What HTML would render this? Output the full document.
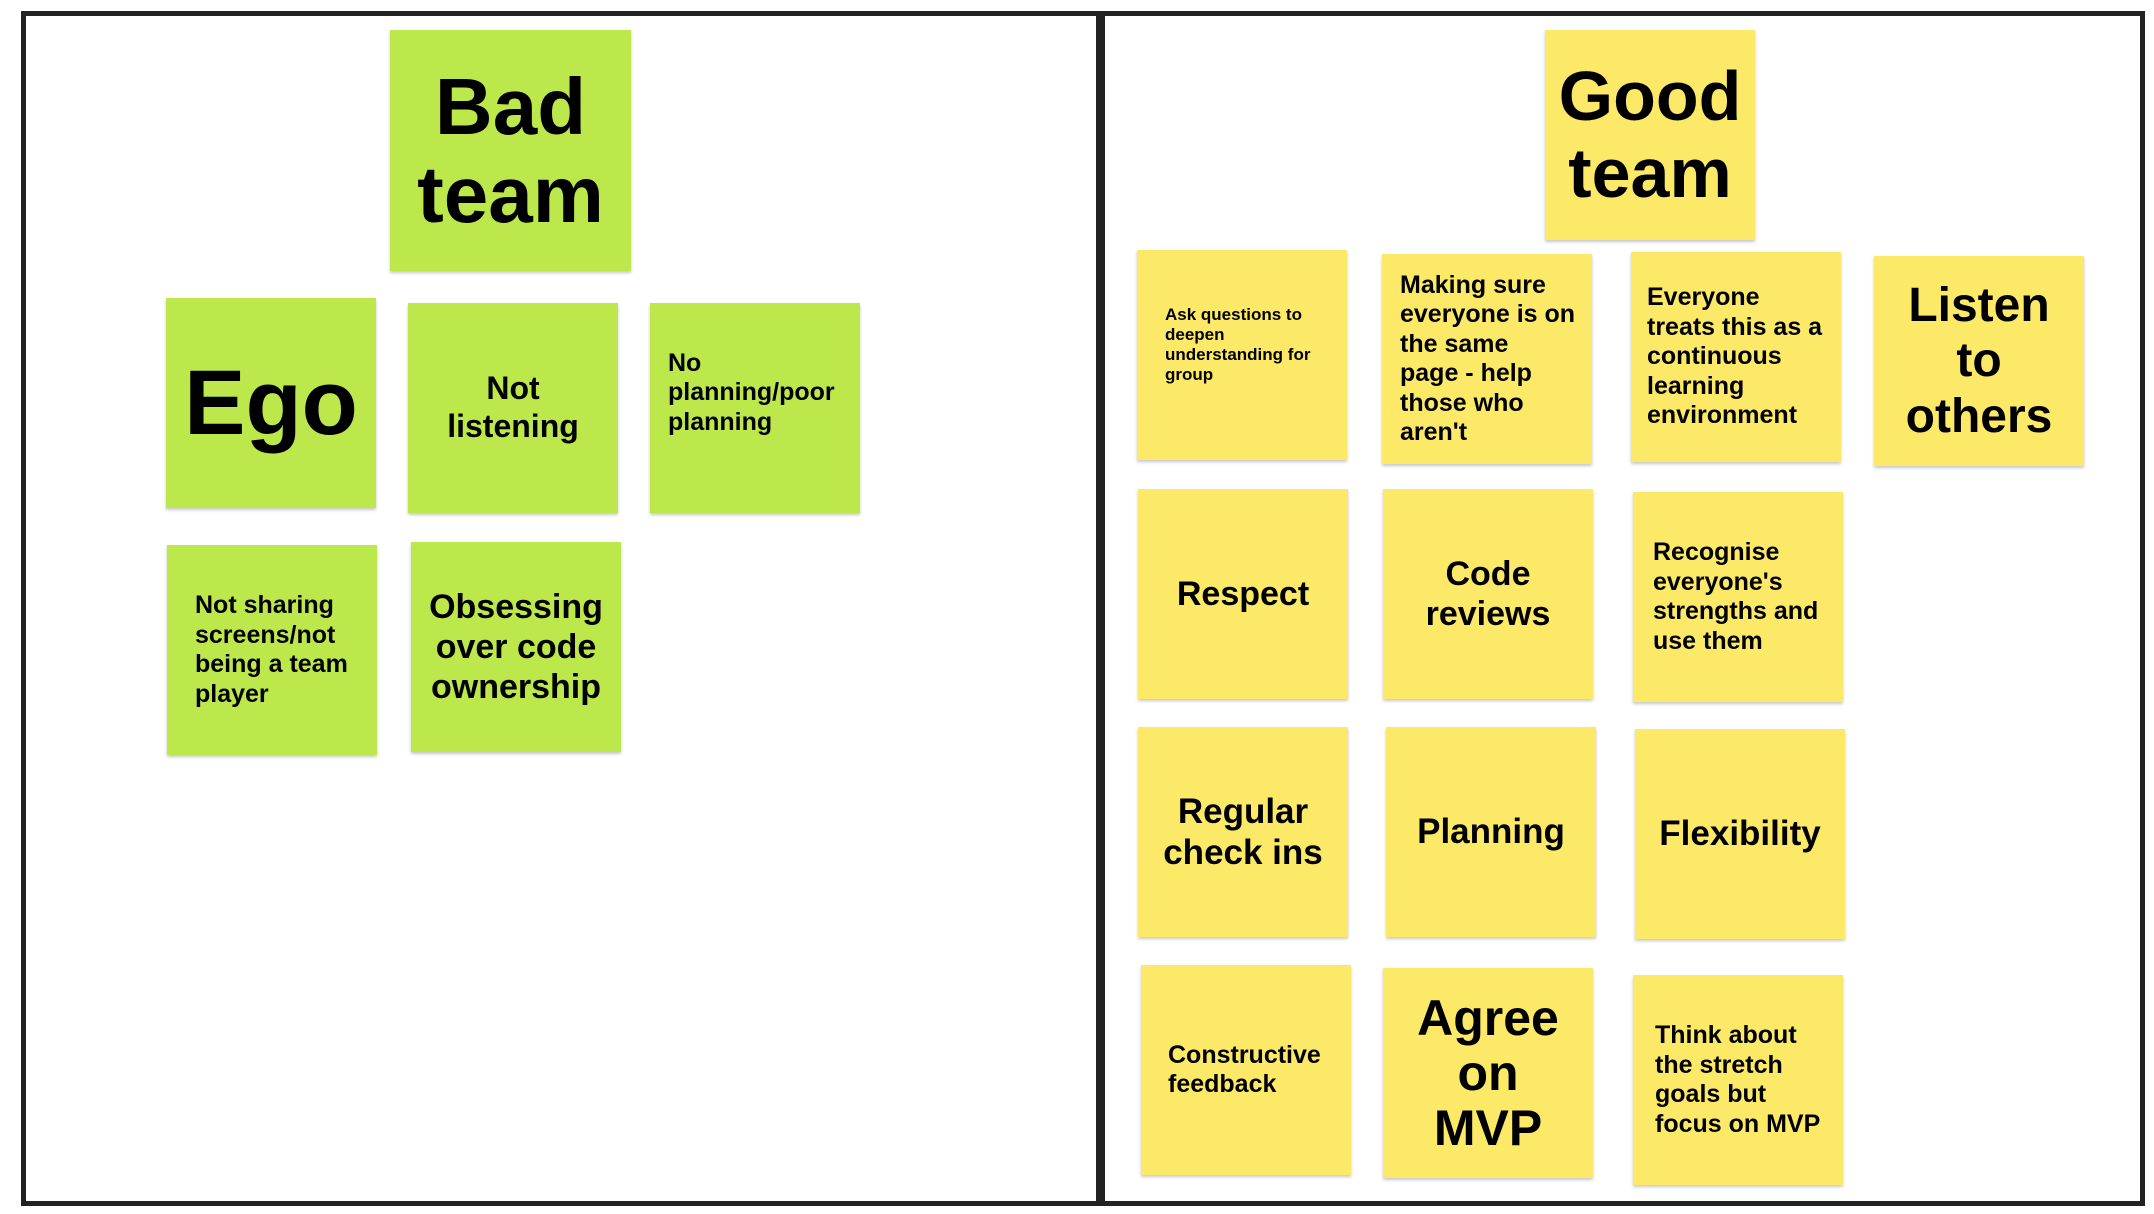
<!DOCTYPE html>
<html><head><meta charset="utf-8"><style>
html,body{margin:0;padding:0;background:#fff;}
body{width:2154px;height:1214px;position:relative;overflow:hidden;font-family:"Liberation Sans",sans-serif;font-weight:bold;color:#000;}
.frame{position:absolute;border:5px solid #222;box-sizing:border-box;}
.s{position:absolute;width:210px;height:210px;box-sizing:border-box;display:flex;flex-direction:column;justify-content:center;box-shadow:0 2px 3px rgba(0,0,0,0.22);line-height:1.18;}
.g{background:#bde84b;}
.y{background:#fbe967;}
.c{text-align:center;align-items:center;}
.l{text-align:left;padding-left:28px;padding-right:10px;}
</style></head><body>
<div class="frame" style="left:21px;top:11px;width:1080px;height:1195px;"></div>
<div class="frame" style="left:1100px;top:11px;width:1045px;height:1195px;"></div>

<div class="s g c" style="left:390px;top:30px;width:241px;height:241px;font-size:80px;line-height:1.1;">Bad<br>team</div>
<div class="s g c" style="left:166px;top:298px;font-size:92px;">Ego</div>
<div class="s g c" style="left:408px;top:303px;font-size:32px;">Not<br>listening</div>
<div class="s g l" style="left:650px;top:303px;font-size:25px;padding-bottom:30px;padding-left:18px;">No<br>planning/poor<br>planning</div>
<div class="s g l" style="left:167px;top:545px;font-size:25px;">Not sharing<br>screens/not<br>being a team<br>player</div>
<div class="s g c" style="left:411px;top:542px;font-size:34px;">Obsessing<br>over code<br>ownership</div>

<div class="s y c" style="left:1545px;top:30px;font-size:70px;line-height:1.1;">Good<br>team</div>

<div class="s y l" style="left:1137px;top:250px;font-size:17px;padding-bottom:20px;">Ask questions to<br>deepen<br>understanding for<br>group</div>
<div class="s y l" style="left:1382px;top:254px;font-size:25px;padding-left:18px;">Making sure<br>everyone is on<br>the same<br>page - help<br>those who<br>aren't</div>
<div class="s y l" style="left:1631px;top:252px;font-size:25px;padding-left:16px;">Everyone<br>treats this as a<br>continuous<br>learning<br>environment</div>
<div class="s y c" style="left:1874px;top:256px;font-size:48px;line-height:1.15;">Listen<br>to<br>others</div>

<div class="s y c" style="left:1138px;top:489px;font-size:34px;">Respect</div>
<div class="s y c" style="left:1383px;top:489px;font-size:34px;">Code<br>reviews</div>
<div class="s y l" style="left:1633px;top:492px;font-size:25px;padding-left:20px;">Recognise<br>everyone's<br>strengths and<br>use them</div>

<div class="s y c" style="left:1138px;top:727px;font-size:35px;">Regular<br>check ins</div>
<div class="s y c" style="left:1386px;top:727px;font-size:35px;">Planning</div>
<div class="s y c" style="left:1635px;top:729px;font-size:35px;">Flexibility</div>

<div class="s y l" style="left:1141px;top:965px;font-size:25px;padding-left:27px;">Constructive<br>feedback</div>
<div class="s y c" style="left:1383px;top:968px;font-size:50px;line-height:1.1;">Agree<br>on<br>MVP</div>
<div class="s y l" style="left:1633px;top:975px;font-size:25px;padding-left:22px;">Think about<br>the stretch<br>goals but<br>focus on MVP</div>
</body></html>
